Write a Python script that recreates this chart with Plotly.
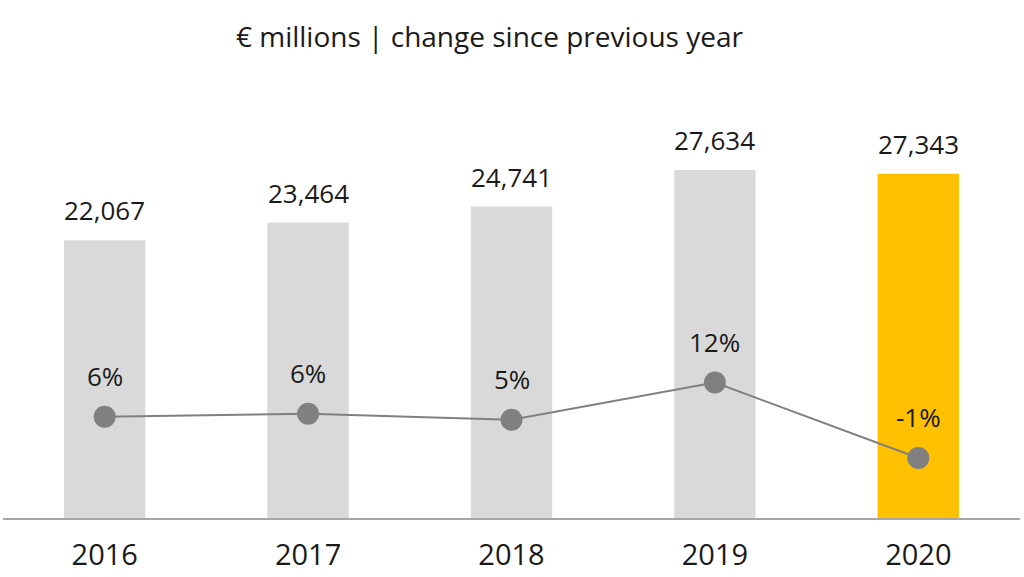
import plotly.graph_objects as go

# -------------------- Data
years = ['2016', '2017', '2018', '2019', '2020']
revenue = [22067, 23464, 24741, 27634, 27343]  # € millions
change_pct = [5.9, 6.4, 5.4, 11.7, -1.1]  # % change since previous year
change_labels = ['6%', '6%', '5%', '12%', '-1%']

GREY_BAR = '#d9d9d9'
HIGHLIGHT = '#ffc000'
LINE_GREY = '#808080'
TEXT = '#1a1a1a'
FONT = '"Open Sans", Lato, sans-serif'

bar_colors = [GREY_BAR] * (len(years) - 1) + [HIGHLIGHT]

fig = go.Figure()

fig.add_trace(go.Bar(
    x=years,
    y=revenue,
    marker_color=bar_colors,
    marker_line_width=0,
    hoverinfo='skip',
))

fig.add_trace(go.Scatter(
    x=years,
    y=change_pct,
    yaxis='y2',
    mode='lines+markers',
    line=dict(color=LINE_GREY, width=2),
    marker=dict(size=22, color=LINE_GREY),
    hoverinfo='skip',
))

# Labels as annotations so the gap above bars/markers can be set in pixels.
# Numeric-looking strings get read as numbers by annotations on a category
# axis, so pass the category index instead.
for i, (value, pct, label) in enumerate(zip(revenue, change_pct, change_labels)):
    fig.add_annotation(
        x=i, y=value, xref='x', yref='y',
        text=f'{value:,}', showarrow=False,
        yshift=30,
        font=dict(size=26, color=TEXT),
    )
    fig.add_annotation(
        x=i, y=pct, xref='x', yref='y2',
        text=label, showarrow=False,
        yshift=41,
        font=dict(size=26, color=TEXT),
    )

fig.update_layout(
    width=1024,
    height=577,
    margin=dict(t=100, b=59, l=3, r=4),
    paper_bgcolor='white',
    plot_bgcolor='white',
    font=dict(family=FONT, color=TEXT),
    showlegend=False,
    bargap=0.6,
    title=dict(
        text='€ millions | change since previous year',
        font=dict(size=28, color=TEXT),
        x=0.478, xanchor='center',
        y=0.935, yanchor='middle',
    ),
    xaxis=dict(
        type='category',
        showline=True,
        linecolor='#a6a6a6',
        linewidth=1.5,
        showgrid=False,
        ticks='',
        tickfont=dict(size=29, color=TEXT),
        ticklabelstandoff=10,
    ),
    yaxis=dict(
        range=[0, 33200],
        visible=False,
        showgrid=False,
    ),
    yaxis2=dict(
        range=[-11.3, 59.7],
        overlaying='y',
        visible=False,
        showgrid=False,
    ),
)

# The page's default body margin pushes the figure off the window edge
fig.write_html(
    'out.html',
    config={'displayModeBar': False},
    post_script="document.body.style.margin='0';",
)
